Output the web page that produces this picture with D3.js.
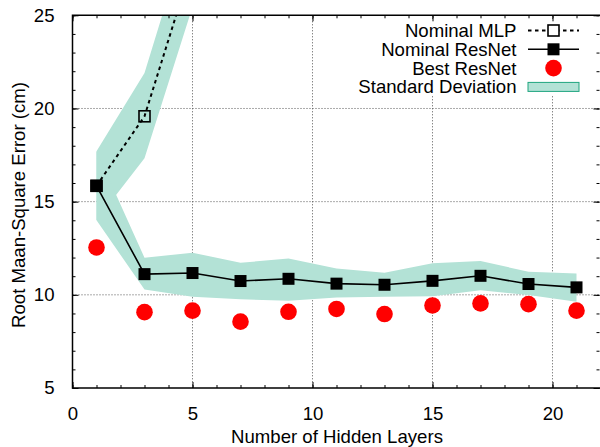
<!DOCTYPE html>
<html>
<head>
<meta charset="utf-8">
<script src="https://cdn.jsdelivr.net/npm/d3@7"></script>
<style>
  body { margin: 0; background: #fff; }
  svg { font-family: "Liberation Sans", Arial, sans-serif; }
</style>
</head>
<body>
<svg id="chart" width="600" height="447"></svg>
<script>
// data
const layers = [1, 3, 5, 7, 9, 11, 13, 15, 17, 19, 21];
const resnetMean = [15.85, 11.11, 11.17, 10.74, 10.86, 10.6, 10.54, 10.75, 11.02, 10.58, 10.4];
const resnetLow = [14.0, 10.29, 9.9, 9.76, 9.68, 9.85, 9.9, 9.93, 10.25, 9.99, 9.63];
const resnetHigh = [17.7, 11.99, 12.26, 11.72, 11.95, 11.41, 11.18, 11.69, 11.81, 11.24, 11.15];
const bestResnet = [12.54, 9.07, 9.15, 8.56, 9.09, 9.24, 8.97, 9.43, 9.54, 9.5, 9.15];

const mlpLayers = [1, 3, 5];
const mlpMean = [15.85, 19.58, 27.8];
const mlpLow = [14.0, 17.33, 25.45];
const mlpHigh = [17.7, 21.9, 30.3];

const xTicks = [0, 5, 10, 15, 20];
const yTicks = [5, 10, 15, 20, 25];
const legendLabels = ["Nominal MLP", "Nominal ResNet", "Best ResNet", "Standard Deviation"];

const bandFill = "#b3e2d6", bandStroke = "#1fa57f";
const fontSize = "18.6px";

const svg = d3.select("#chart");
const mLeft = 72.5, mRight = 600.5, mTop = 15.3, mBottom = 388;

const x = d3.scaleLinear().domain([0, 22]).range([mLeft, mRight]);
const y = d3.scaleLinear().domain([5, 25]).range([mBottom, mTop]);

svg.append("clipPath").attr("id", "clip")
    .append("rect")
    .attr("x", mLeft).attr("y", mTop)
    .attr("width", mRight - mLeft).attr("height", mBottom - mTop);

// grid
const grid = svg.append("g").attr("stroke", "#555").attr("stroke-dasharray", "1,2").attr("stroke-width", 1);
grid.selectAll(".gx").data(xTicks.slice(1)).enter().append("line")
    .attr("x1", d => x(d)).attr("x2", d => x(d))
    .attr("y1", mTop).attr("y2", mBottom);
grid.selectAll(".gy").data(yTicks.slice(1, -1)).enter().append("line")
    .attr("x1", mLeft).attr("x2", mRight)
    .attr("y1", d => y(d)).attr("y2", d => y(d));

const plot = svg.append("g").attr("clip-path", "url(#clip)");

// std bands
const area = d3.area()
    .x(d => x(d.x)).y0(d => y(d.lo)).y1(d => y(d.hi));

const mlpData = mlpLayers.map((l, i) => ({ x: l, m: mlpMean[i], lo: mlpLow[i], hi: mlpHigh[i] }));
const resData = layers.map((l, i) => ({ x: l, m: resnetMean[i], lo: resnetLow[i], hi: resnetHigh[i], b: bestResnet[i] }));

plot.append("path").datum(mlpData).attr("d", area).attr("fill", bandFill);
plot.append("path").datum(resData).attr("d", area).attr("fill", bandFill);

const line = d3.line().x(d => x(d.x)).y(d => y(d.m));

plot.append("path").datum(mlpData).attr("d", line)
    .attr("fill", "none").attr("stroke", "#000").attr("stroke-width", 2)
    .attr("stroke-dasharray", "3.5,3.5");

plot.selectAll(".mlp").data(mlpData).enter().append("rect")
    .attr("x", d => x(d.x) - 5.5).attr("y", d => y(d.m) - 5.5)
    .attr("width", 11).attr("height", 11)
    .attr("fill", "none").attr("stroke", "#000").attr("stroke-width", 1.6);

plot.append("path").datum(resData).attr("d", line)
    .attr("fill", "none").attr("stroke", "#000").attr("stroke-width", 1.6);

plot.selectAll(".res").data(resData).enter().append("rect")
    .attr("x", d => x(d.x) - 6).attr("y", d => y(d.m) - 6)
    .attr("width", 12).attr("height", 12)
    .attr("fill", "#000");

plot.selectAll(".best").data(resData).enter().append("circle")
    .attr("cx", d => x(d.x)).attr("cy", d => y(d.b))
    .attr("r", 8.3).attr("fill", "#ff0000");

// legend
const lg = svg.append("g");
lg.append("rect").attr("x", 350).attr("y", 19).attr("width", 250).attr("height", 77).attr("fill", "#fff");
const rowY = i => 30.5 + i * 18.8;
lg.selectAll("text").data(legendLabels).enter().append("text")
    .attr("x", 516.5).attr("y", (d, i) => rowY(i))
    .attr("dy", "0.35em").attr("text-anchor", "end")
    .style("font-size", fontSize).text(d => d);
const sx1 = 528, sx2 = 579, sc = 553.5;
lg.append("line").attr("x1", sx1).attr("x2", sx2).attr("y1", rowY(0)).attr("y2", rowY(0))
    .attr("stroke", "#000").attr("stroke-width", 2).attr("stroke-dasharray", "3.5,3.5");
lg.append("rect").attr("x", sc - 5.5).attr("y", rowY(0) - 5.5).attr("width", 11).attr("height", 11)
    .attr("fill", "#fff").attr("stroke", "#000").attr("stroke-width", 1.6);
lg.append("line").attr("x1", sx1).attr("x2", sx2).attr("y1", rowY(1)).attr("y2", rowY(1))
    .attr("stroke", "#000").attr("stroke-width", 1.6);
lg.append("rect").attr("x", sc - 6).attr("y", rowY(1) - 6).attr("width", 12).attr("height", 12).attr("fill", "#000");
lg.append("circle").attr("cx", sc).attr("cy", rowY(2)).attr("r", 8.3).attr("fill", "#ff0000");
lg.append("rect").attr("x", sx1).attr("y", rowY(3) - 4.5).attr("width", sx2 - sx1).attr("height", 9)
    .attr("fill", bandFill).attr("stroke", bandStroke).attr("stroke-width", 1);

// axes, gnuplot style ticks pointing inward on all four sides
function styleAxis(g) {
    g.select(".domain").remove();
    g.selectAll("line").attr("stroke", "#000");
    g.selectAll("text").style("font-size", fontSize).attr("fill", "#000");
}
const minorX = d3.range(0, 23, 1), minorY = d3.range(5, 26, 1);

svg.append("g").attr("transform", `translate(0,${mBottom})`)
    .call(d3.axisBottom(x).tickValues(minorX).tickSize(-3).tickFormat(""))
    .call(styleAxis);
svg.append("g").attr("transform", `translate(0,${mBottom})`)
    .call(d3.axisBottom(x).tickValues(xTicks).tickSize(-6).tickPadding(19).tickFormat(d3.format("d")))
    .call(styleAxis);
svg.append("g").attr("transform", `translate(0,${mTop})`)
    .call(d3.axisTop(x).tickValues(minorX).tickSize(-3).tickFormat(""))
    .call(styleAxis);
svg.append("g").attr("transform", `translate(0,${mTop})`)
    .call(d3.axisTop(x).tickValues(xTicks).tickSize(-6).tickFormat(""))
    .call(styleAxis);
svg.append("g").attr("transform", `translate(${mLeft},0)`)
    .call(d3.axisLeft(y).tickValues(minorY).tickSize(-3).tickFormat(""))
    .call(styleAxis);
svg.append("g").attr("transform", `translate(${mLeft},0)`)
    .call(d3.axisLeft(y).tickValues(yTicks).tickSize(-6).tickPadding(18).tickFormat(d3.format("d")))
    .call(styleAxis);
svg.append("g").attr("transform", `translate(${mRight - 1},0)`)
    .call(d3.axisRight(y).tickValues(minorY).tickSize(-3).tickFormat(""))
    .call(styleAxis);
svg.append("g").attr("transform", `translate(${mRight - 1},0)`)
    .call(d3.axisRight(y).tickValues(yTicks).tickSize(-6).tickFormat(""))
    .call(styleAxis);

// frame
svg.append("path")
    .attr("d", `M${mRight},${mTop}H${mLeft}V${mBottom}H${mRight}`)
    .attr("fill", "none").attr("stroke", "#000").attr("stroke-width", 1.5);

// axis titles
svg.append("text").attr("x", 337).attr("y", 436).attr("dy", "0.35em")
    .attr("text-anchor", "middle").style("font-size", fontSize)
    .text("Number of Hidden Layers");
svg.append("text").attr("transform", "translate(18,205) rotate(-90)")
    .attr("dy", "0.35em").attr("text-anchor", "middle").style("font-size", fontSize)
    .text("Root Maan-Square Error (cm)");
</script>
</body>
</html>
